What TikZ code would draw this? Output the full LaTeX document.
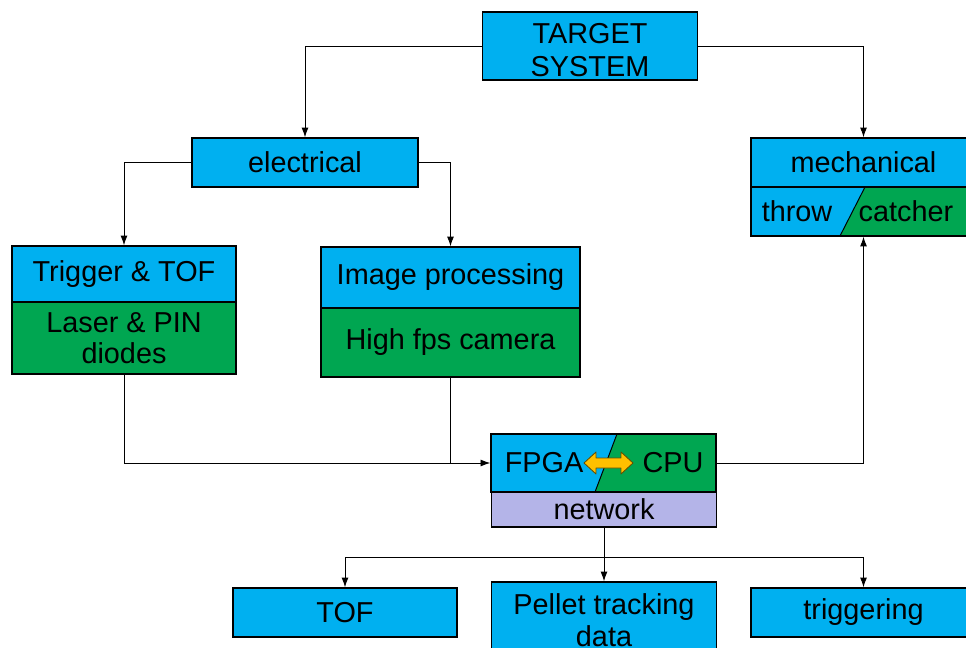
\documentclass[tikz,border=0pt]{standalone}
\usepackage{fontspec}
\setmainfont{Liberation Sans}
\usepackage{xcolor}
\usepackage{tikz}
\usetikzlibrary{arrows.meta}
\definecolor{celeste}{RGB}{0,176,240}
\definecolor{verdeo}{RGB}{0,166,81}
\definecolor{lavanda}{RGB}{180,180,232}
\definecolor{ambar}{RGB}{255,192,0}
\begin{document}
\begin{tikzpicture}[
  x=0.025cm, y=-0.025cm,
  caja/.style={draw, line width=0.9pt, inner sep=0pt, align=center,
    minimum width=5.625cm, font=\fontsize{20.5}{23}\selectfont},
  azul/.style={caja, fill=celeste},
  verde/.style={caja, fill=verdeo},
  lila/.style={caja, fill=lavanda},
  texto/.style={inner sep=0pt, font=\fontsize{20.5}{23}\selectfont},
  flecha/.style={-{Latex[length=7pt,width=5pt]}, line width=0.7pt}
]
  \useasboundingbox (0,0) rectangle (966,648);

  % top level
  \node[azul, minimum width=5.375cm, minimum height=1.7cm, text height=44pt,
    font=\fontsize{20.5}{23.5}\selectfont] (target) at (590,46) {TARGET\\SYSTEM};
  \node[azul, minimum width=5.65cm, minimum height=1.225cm] (elec) at (305,162.5) {electrical};
  \node[azul, minimum height=1.225cm] (mech) at (863.5,162.5) {mechanical};

  % mechanical: throw / catcher
  \fill[celeste] (751,187) -- (865,187) -- (840,236) -- (751,236) -- cycle;
  \fill[verdeo] (865,187) -- (976,187) -- (976,236) -- (840,236) -- cycle;
  \draw[line width=0.7pt] (865,187) -- (840,236);
  \node[caja, minimum height=1.225cm] (mechinf) at (863.5,211.5) {};
  \node[texto] (throw) at (797,211) {throw};
  \node[texto] (catcher) at (906,211) {catcher};

  % electrical branches
  \node[azul, minimum width=5.6cm, minimum height=1.4cm] (trigsup) at (124,274) {Trigger \& TOF};
  \node[verde, minimum width=5.6cm, minimum height=1.8cm, font=\fontsize{20.5}{22}\selectfont] (triginf) at (124,338) {Laser \& PIN\\diodes};
  \node[azul, minimum width=6.475cm, minimum height=1.525cm] (imgsup) at (450.5,277.5) {Image processing};
  \node[verde, minimum width=6.475cm, minimum height=1.725cm] (imginf) at (450.5,342.5) {High fps camera};

  % FPGA / CPU
  \fill[celeste] (491,434) -- (617,434) -- (595,492) -- (491,492) -- cycle;
  \fill[verdeo] (617,434) -- (716,434) -- (716,492) -- (595,492) -- cycle;
  \draw[line width=0.7pt] (617,434) -- (595,492);
  \node[caja, minimum height=1.45cm] (proc) at (603.5,463) {};
  \node[texto] (fpga) at (544,463) {FPGA};
  \node[texto] (cpu) at (673,463) {CPU};
  \draw[fill=ambar, draw=black!60!ambar, line width=0.6pt, line join=round]
    (584,463) -- (596,452) -- (596,458) -- (621,458) -- (621,452) -- (633,463)
    -- (621,474) -- (621,468) -- (596,468) -- (596,474) -- cycle;
  \node[lila, minimum height=0.875cm] (red) at (604,509.5) {network};

  % outputs
  \coordinate (rama) at (604,557);
  \node[azul, minimum width=5.6cm, minimum height=1.225cm] (tof) at (345,612.5) {TOF};
  \node[azul, minimum height=1.9cm] (pellet) at (604,620) {Pellet tracking\\data};
  \node[azul, minimum height=1.225cm] (trigg) at (863.5,612.5) {triggering};

  \draw[flecha] (target.west) -| (elec.north);
  \draw[flecha] (target.east) -| (mech.north);
  \draw[flecha] (elec.west) -| (trigsup.north);
  \draw[flecha] (elec.east) -| (imgsup.north);
  \draw[flecha] (triginf.south) |- (proc.west);
  \draw[line width=0.7pt] (imginf.south) -- (imginf.south |- proc.west);
  \draw[flecha] (proc.east) -| (mechinf.south);
  \draw[line width=0.7pt] (red.south) -- (rama);
  \draw[flecha] (rama) -- (pellet.north);
  \draw[flecha] (rama) -| (tof.north);
  \draw[flecha] (rama) -| (trigg.north);
\end{tikzpicture}
\end{document}
